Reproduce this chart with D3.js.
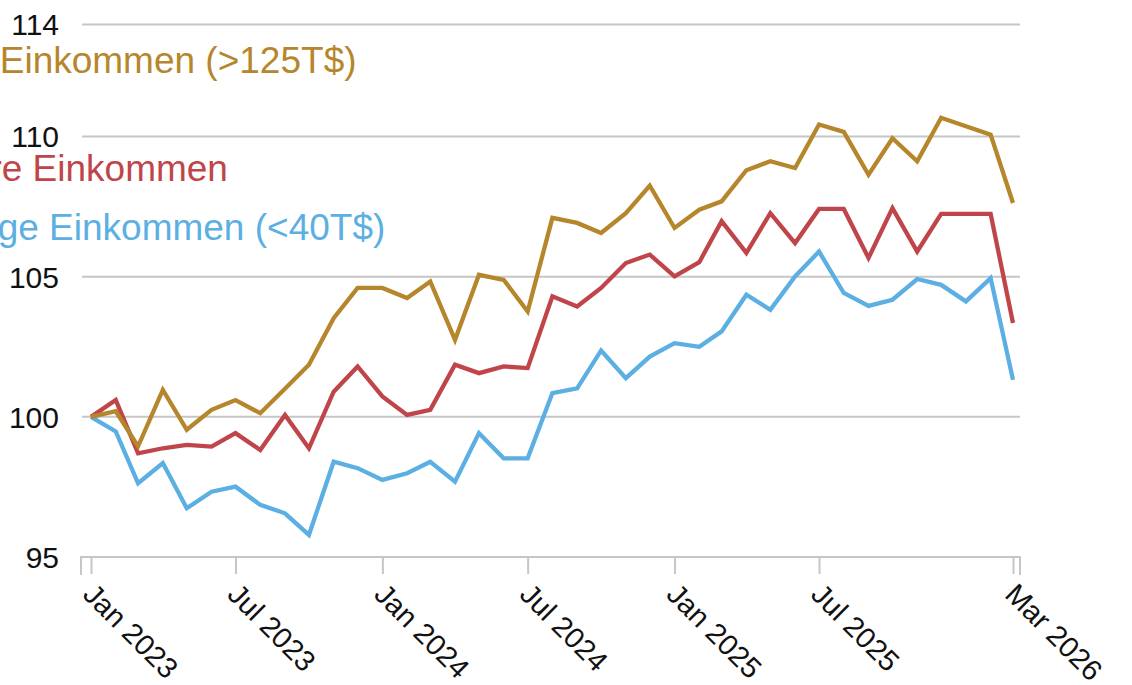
<!DOCTYPE html>
<html>
<head>
<meta charset="utf-8">
<script src="https://cdn.jsdelivr.net/npm/d3@7"></script>
<style>
  body { margin: 0; background: #fff; }
  svg { display: block; font-family: "Liberation Sans", Arial, sans-serif; }
</style>
</head>
<body>
<script>
// dimensions
var width = 1132;
var height = 685;

// monthly index values, Jan 2023 .. Mar 2026
var months = d3.timeMonth.range(new Date(2023, 0, 1), new Date(2026, 3, 1));

var hohe = [100.0, 100.2, 98.95, 100.96, 99.54, 100.25, 100.6, 100.13, 101.0, 101.86, 103.52, 104.6, 104.6,
    104.24, 104.83, 102.75, 105.07, 104.89, 103.76, 107.1, 106.92, 106.56, 107.27, 108.25, 106.74, 107.39,
    107.69, 108.8, 109.12, 108.88, 110.43, 110.17, 108.64, 109.94, 109.12, 110.67, 110.37, 110.07, 107.63];

var mittlere = [100.0, 100.6, 98.7, 98.88, 99.0, 98.94, 99.42, 98.82, 100.07, 98.88, 100.9, 101.8, 100.73,
    100.07, 100.25, 101.86, 101.56, 101.8, 101.74, 104.3, 103.94, 104.6, 105.49, 105.79, 105.01, 105.52,
    106.98, 105.85, 107.27, 106.2, 107.42, 107.42, 105.67, 107.45, 105.9, 107.24, 107.24, 107.24, 103.35];

var niedrige = [100.0, 99.48, 97.63, 98.35, 96.74, 97.33, 97.51, 96.86, 96.56, 95.79, 98.4, 98.17, 97.75,
    97.99, 98.4, 97.69, 99.42, 98.52, 98.52, 100.85, 101.02, 102.37, 101.38, 102.15, 102.63, 102.5,
    103.05, 104.36, 103.82, 105.01, 105.9, 104.42, 103.96, 104.18, 104.92, 104.71, 104.12, 104.95, 101.32];

var yTicks = [95, 100, 105, 110, 114];
var xTicks = [new Date(2023, 0, 1), new Date(2023, 6, 1), new Date(2024, 0, 1), new Date(2024, 6, 1),
    new Date(2025, 0, 1), new Date(2025, 6, 1), new Date(2026, 2, 1)];

var series = [
    { name: "Niedrige Einkommen (<40T$)", values: niedrige, colour: "#5cafe2", labelY: 240 },
    { name: "Mittlere Einkommen", values: mittlere, colour: "#c0454a", labelY: 181 },
    { name: "Hohe Einkommen (>125T$)", values: hohe, colour: "#b6862c", labelY: 73 }
];

var svg = d3.select("body")
    .append("svg")
    .attr("width", width)
    .attr("height", height);

var x = d3.scaleTime()
    .domain([months[0], months[months.length - 1]])
    .range([91, 1013]);

var y = d3.scaleLinear()
    .domain([95, 114])
    .range([557, 24.5]);

// gridlines
svg.append("g")
    .selectAll("line")
    .data(yTicks.filter(function(d) { return d > 95; }))
    .enter().append("line")
    .attr("x1", 82)
    .attr("x2", 1020)
    .attr("y1", function(d) { return y(d); })
    .attr("y2", function(d) { return y(d); })
    .attr("stroke", "#c6c6c6")
    .attr("stroke-width", 2);

// y axis labels
svg.append("g")
    .selectAll("text")
    .data(yTicks)
    .enter().append("text")
    .attr("x", 59)
    .attr("y", function(d) { return y(d); })
    .attr("dy", "0.36em")
    .attr("text-anchor", "end")
    .style("font-size", "30px")
    .style("fill", "#111")
    .text(function(d) { return d; });

// x axis
var xAxis = d3.axisBottom(x)
    .tickValues(xTicks)
    .tickSize(17)
    .tickSizeOuter(0)
    .tickFormat(d3.timeFormat("%b %Y"));

var gx = svg.append("g")
    .attr("transform", "translate(0," + y(95) + ")")
    .call(xAxis);

gx.select(".domain").remove();
gx.selectAll(".tick line")
    .attr("stroke", "#c6c6c6")
    .attr("stroke-width", 2);
gx.selectAll(".tick text")
    .attr("x", 0)
    .attr("y", 0)
    .attr("dy", 0)
    .attr("text-anchor", "start")
    .attr("transform", "translate(-10,39) rotate(45)")
    .style("font-size", "29px")
    .style("font-family", "\"Liberation Sans\", Arial, sans-serif")
    .style("fill", "#111");

// axis baseline with end caps
svg.append("path")
    .attr("d", "M81,575V557H1020V575")
    .attr("fill", "none")
    .attr("stroke", "#c6c6c6")
    .attr("stroke-width", 2);

// lines
var line = d3.line()
    .x(function(d, i) { return x(months[i]); })
    .y(function(d) { return y(d); });

svg.append("g")
    .selectAll("path")
    .data(series)
    .enter().append("path")
    .attr("d", function(d) { return line(d.values); })
    .attr("fill", "none")
    .attr("stroke", function(d) { return d.colour; })
    .attr("stroke-width", 4.3);

// series labels (start off the left edge, as in the source)
svg.append("g")
    .selectAll("text")
    .data(series)
    .enter().append("text")
    .attr("x", -99)
    .attr("y", function(d) { return d.labelY; })
    .style("font-size", "37px")
    .style("fill", function(d) { return d.colour; })
    .text(function(d) { return d.name; });
</script>
</body>
</html>
